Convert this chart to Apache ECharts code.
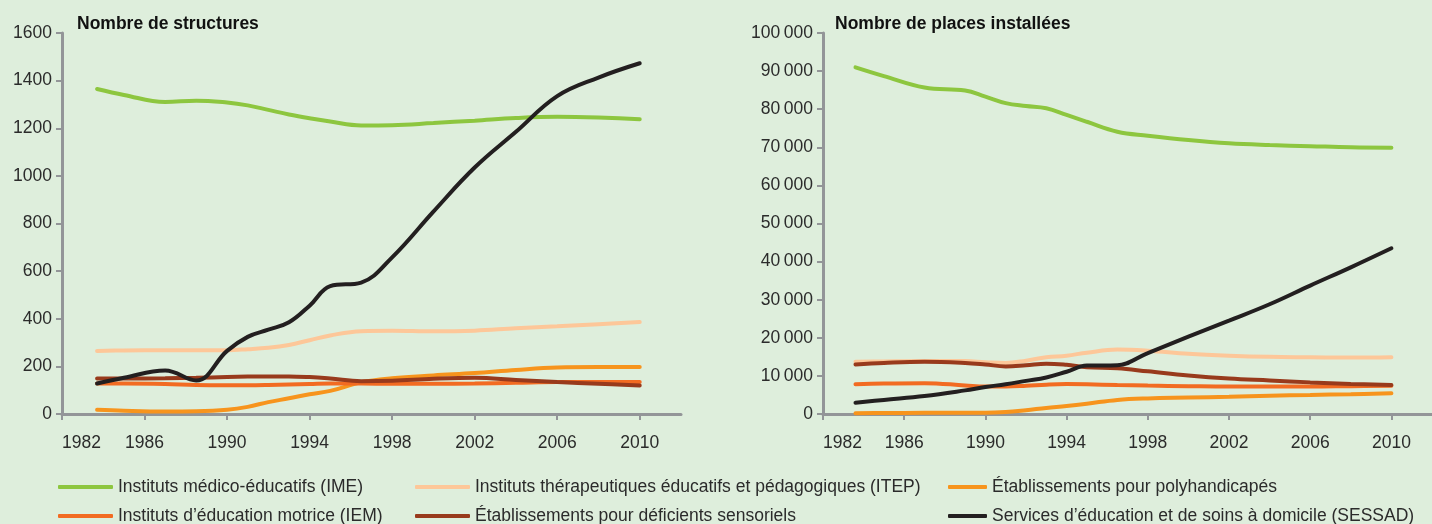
<!DOCTYPE html>
<html lang="fr">
<head>
<meta charset="utf-8">
<title>Structures et places installées</title>
<script src="https://cdn.jsdelivr.net/npm/echarts@6/dist/echarts.min.js"></script>
<style>
  html, body { margin: 0; padding: 0; background: #deeedc; }
  #chart { width: 1432px; height: 524px; }
</style>
</head>
<body>
<div id="chart"></div>
<script>
// Years shown on both horizontal axes
const yearTicks = [1982, 1986, 1990, 1994, 1998, 2002, 2006, 2010];

// Series names and colours
const seriesNames = [
  'Instituts médico-éducatifs (IME)',
  'Instituts thérapeutiques éducatifs et pédagogiques (ITEP)',
  'Établissements pour polyhandicapés',
  'Instituts d\u2019éducation motrice (IEM)',
  'Établissements pour déficients sensoriels',
  'Services d\u2019éducation et de soins à domicile (SESSAD)'
];
const seriesColors = ['#8dc63f', '#fdc799', '#f7941d', '#f26b22', '#983a1c', '#231f20'];

// Nombre de structures
const yearsStructures = [1983.7, 1985, 1987, 1988.5, 1990, 1991, 1992, 1993, 1994, 1995, 1996.5, 1998, 2000, 2002, 2004, 2006, 2008, 2010];
const imeStructures     = [1365, 1340, 1310, 1316, 1308, 1296, 1277, 1258, 1242, 1228, 1212, 1213, 1222, 1232, 1243, 1248, 1245, 1238];
const itepStructures    = [265, 267, 268, 268, 268, 272, 278, 290, 310, 330, 348, 350, 347, 350, 360, 368, 377, 386];
const polyStructures    = [18, 14, 11, 12, 18, 30, 50, 66, 83, 97, 133, 150, 162, 172, 185, 195, 197, 197];
const iemStructures     = [128, 128, 126, 122, 121, 121, 122, 124, 126, 128, 128, 127, 127, 128, 131, 134, 134, 134];
const sensStructures    = [149, 149, 150, 152, 155, 157, 158, 158, 155, 149, 138, 140, 148, 152, 143, 134, 127, 120];
const sessadStructures  = [128, 152, 183, 141, 265, 324, 354, 385, 455, 537, 552, 658, 850, 1035, 1185, 1335, 1413, 1473];

// Nombre de places installées
const yearsPlaces = [1983.6, 1985, 1987, 1989, 1990, 1991, 1992, 1993, 1994, 1995, 1996.5, 1998, 2000, 2002, 2004, 2006, 2008, 2010];
const imePlaces     = [91000, 88700, 85700, 84900, 83300, 81600, 80850, 80250, 78500, 76700, 74100, 73050, 71900, 71050, 70600, 70300, 70000, 69900];
const itepPlaces    = [13700, 13800, 13900, 13900, 13600, 13400, 14000, 14900, 15300, 16100, 16900, 16600, 15800, 15300, 15000, 14900, 14800, 14900];
const polyPlaces    = [200, 250, 300, 300, 300, 500, 1000, 1600, 2100, 2700, 3700, 4100, 4300, 4500, 4800, 5000, 5200, 5450];
const iemPlaces     = [7800, 8000, 8100, 7500, 7200, 7200, 7400, 7700, 7850, 7800, 7600, 7450, 7300, 7200, 7200, 7200, 7300, 7400];
const sensPlaces    = [13000, 13400, 13700, 13400, 13000, 12500, 12800, 13200, 12900, 12300, 12000, 11200, 10100, 9300, 8800, 8300, 7900, 7600];
const sessadPlaces  = [2970, 3700, 4700, 6200, 7100, 7800, 8700, 9600, 11100, 12700, 12800, 16000, 20300, 24500, 28800, 33700, 38500, 43500];

const structuresData = [imeStructures, itepStructures, polyStructures, iemStructures, sensStructures, sessadStructures];
const placesData = [imePlaces, itepPlaces, polyPlaces, iemPlaces, sensPlaces, sessadPlaces];

const FONT = '"Liberation Sans", Arial, sans-serif';
const FONT_SIZE = 17.5;
const AXIS_GREY = '#939598';
const TEXT_COLOR = '#2b2b2b';

function pairs(years, values) {
  return values.map((v, i) => [years[i], v]);
}

function thinThousands(v) {
  return String(v).replace(/\B(?=(\d{3})+(?!\d))/g, '\u2009');
}

function xAxisFor(gridIndex) {
  return {
    type: 'value', gridIndex, min: 1982, max: 2012, interval: 4,
    splitLine: { show: false },
    axisLine: { lineStyle: { color: AXIS_GREY, width: 3 } },
    axisTick: { length: 6, lineStyle: { color: AXIS_GREY, width: 2 }, customValues: yearTicks },
    axisLabel: {
      customValues: yearTicks, margin: 20, color: TEXT_COLOR,
      fontFamily: FONT, fontSize: FONT_SIZE, alignMinLabel: 'left',
      formatter: v => String(v)
    }
  };
}

function yAxisFor(gridIndex, max, interval, formatter) {
  return {
    type: 'value', gridIndex, min: 0, max, interval,
    splitLine: { show: false },
    axisLine: { show: true, lineStyle: { color: AXIS_GREY, width: 3 } },
    axisTick: { show: true, length: 6, lineStyle: { color: AXIS_GREY, width: 2 } },
    axisLabel: { margin: 10, color: TEXT_COLOR, fontFamily: FONT, fontSize: FONT_SIZE, formatter }
  };
}

const series = [];
seriesNames.forEach((name, i) => {
  series.push({
    name, type: 'line', xAxisIndex: 0, yAxisIndex: 0,
    data: pairs(yearsStructures, structuresData[i]),
    smooth: 0.4, showSymbol: false, symbol: 'none',
    lineStyle: { color: seriesColors[i], width: 4, cap: 'round' },
    itemStyle: { color: seriesColors[i] },
    emphasis: { disabled: true }, z: 2 + i
  });
  series.push({
    name, type: 'line', xAxisIndex: 1, yAxisIndex: 1,
    data: pairs(yearsPlaces, placesData[i]),
    smooth: 0.4, showSymbol: false, symbol: 'none',
    lineStyle: { color: seriesColors[i], width: 4, cap: 'round' },
    itemStyle: { color: seriesColors[i] },
    emphasis: { disabled: true }, z: 2 + i
  });
});

// Legend: three columns, two rows
const legendSlots = [
  { left: 58, top: 476, w: 55 }, { left: 415, top: 476, w: 55 }, { left: 948, top: 476, w: 39 },
  { left: 58, top: 505, w: 55 }, { left: 415, top: 505, w: 55 }, { left: 948, top: 505, w: 39 }
];
const legends = seriesNames.map((name, i) => ({
  data: [name],
  left: legendSlots[i].left, top: legendSlots[i].top,
  itemWidth: legendSlots[i].w, itemHeight: 4, icon: 'roundRect',
  padding: 0, selectedMode: false,
  textStyle: { fontFamily: FONT, fontSize: FONT_SIZE, color: TEXT_COLOR, lineHeight: 22 }
}));

const chart = echarts.init(document.getElementById('chart'), null, { renderer: 'canvas' });
chart.setOption({
  backgroundColor: '#deeedc',
  animation: false,
  title: [
    { text: 'Nombre de structures', left: 77, top: 15, padding: 0,
      textStyle: { fontFamily: FONT, fontSize: FONT_SIZE, fontWeight: 'bold', color: '#111' } },
    { text: 'Nombre de places installées', left: 835, top: 15, padding: 0,
      textStyle: { fontFamily: FONT, fontSize: FONT_SIZE, fontWeight: 'bold', color: '#111' } }
  ],
  legend: legends,
  grid: [
    { left: 62, top: 33, width: 619, height: 381 },
    { left: 823, top: 33, width: 618, height: 381 }
  ],
  xAxis: [xAxisFor(0), xAxisFor(1)],
  yAxis: [
    yAxisFor(0, 1600, 200, v => String(v)),
    yAxisFor(1, 100000, 10000, v => thinThousands(v))
  ],
  series
});
</script>
</body>
</html>
